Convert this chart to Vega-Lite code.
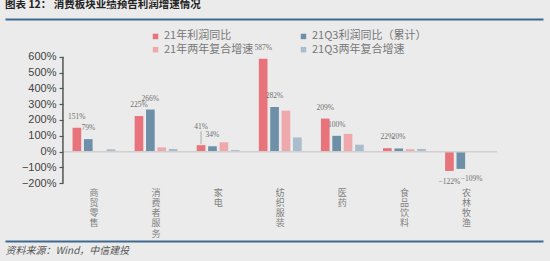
{
  "$schema": "https://vega.github.io/schema/vega-lite/v6.json",
  "width": 538,
  "height": 222.5,
  "autosize": {"type": "none"},
  "padding": {"left": 5, "top": 19, "right": 7, "bottom": 19.5},
  "background": "#EBEBEB",
  "title": {
    "text": "图表 12：    消费板块业绩预告利润增速情况",
    "anchor": "start",
    "frame": "group",
    "font": "Noto Sans CJK SC",
    "fontSize": 10.5,
    "fontWeight": "bold",
    "color": "#222222",
    "offset": 3
  },
  "config": {
    "view": {"stroke": null},
    "legend": {
      "orient": "none",
      "legendX": 145,
      "legendY": 11.7,
      "direction": "horizontal",
      "columns": 2,
      "columnPadding": 44,
      "rowPadding": 1.5,
      "symbolType": "square",
      "symbolSize": 30,
      "symbolStrokeWidth": 0,
      "labelFont": "Noto Sans CJK SC",
      "labelFontSize": 11,
      "labelColor": "#777777",
      "labelOffset": 3
    }
  },
  "data": {
    "values": [
      {"cat": "商贸零售", "series": "21年利润同比", "v": 1.51},
      {"cat": "商贸零售", "series": "21Q3利润同比（累计）", "v": 0.79},
      {"cat": "商贸零售", "series": "21Q3两年复合增速", "v": 0.15},
      {"cat": "消费者服务", "series": "21年利润同比", "v": 2.25},
      {"cat": "消费者服务", "series": "21Q3利润同比（累计）", "v": 2.66},
      {"cat": "消费者服务", "series": "21年两年复合增速", "v": 0.27},
      {"cat": "消费者服务", "series": "21Q3两年复合增速", "v": 0.17},
      {"cat": "家电", "series": "21年利润同比", "v": 0.41},
      {"cat": "家电", "series": "21Q3利润同比（累计）", "v": 0.34},
      {"cat": "家电", "series": "21年两年复合增速", "v": 0.59},
      {"cat": "家电", "series": "21Q3两年复合增速", "v": 0.1},
      {"cat": "纺织服装", "series": "21年利润同比", "v": 5.87},
      {"cat": "纺织服装", "series": "21Q3利润同比（累计）", "v": 2.82},
      {"cat": "纺织服装", "series": "21年两年复合增速", "v": 2.59},
      {"cat": "纺织服装", "series": "21Q3两年复合增速", "v": 0.9},
      {"cat": "医药", "series": "21年利润同比", "v": 2.09},
      {"cat": "医药", "series": "21Q3利润同比（累计）", "v": 1.0},
      {"cat": "医药", "series": "21年两年复合增速", "v": 1.12},
      {"cat": "医药", "series": "21Q3两年复合增速", "v": 0.44},
      {"cat": "食品饮料", "series": "21年利润同比", "v": 0.22},
      {"cat": "食品饮料", "series": "21Q3利润同比（累计）", "v": 0.2},
      {"cat": "食品饮料", "series": "21年两年复合增速", "v": 0.15},
      {"cat": "食品饮料", "series": "21Q3两年复合增速", "v": 0.17},
      {"cat": "农林牧渔", "series": "21年利润同比", "v": -1.22},
      {"cat": "农林牧渔", "series": "21Q3利润同比（累计）", "v": -1.09}
    ]
  },
  "encoding": {
    "x": {
      "field": "cat",
      "type": "nominal",
      "sort": null,
      "scale": {
        "domain": ["商贸零售", "消费者服务", "家电", "纺织服装", "医药", "食品饮料", "农林牧渔"],
        "paddingInner": 0.31,
        "paddingOuter": 0.987,
        "align": 0.551
      },
      "axis": {
        "orient": "bottom",
        "offset": -58.2,
        "title": "资料来源：Wind，中信建投",
        "titleFont": "Noto Sans CJK SC",
        "titleFontSize": 10,
        "titleFontStyle": "italic",
        "titleFontWeight": "normal",
        "titleColor": "#555555",
        "titleAnchor": "start",
        "titleAlign": "left",
        "titleBaseline": "middle",
        "titleX": 0,
        "titleY": 67.4,
        "domain": false,
        "ticks": false,
        "grid": false,
        "labelAngle": 0,
        "labelExpr": "split(datum.label, '')",
        "labelFont": "Noto Sans CJK SC",
        "labelFontSize": 9,
        "labelLineHeight": 10.2,
        "labelColor": "#808080",
        "labelBaseline": "top",
        "labelPadding": 5
      }
    },
    "y": {
      "field": "v",
      "type": "quantitative",
      "scale": {"domain": [-5.678, 8.382], "nice": false, "zero": false},
      "axis": {
        "title": null,
        "values": [-5.67, -2, -1, 0, 1, 2, 3, 4, 5, 6, 8.375],
        "format": ".0%",
        "labelExpr": "(datum.value > 7 || datum.value < -5) ? '' : datum.label",
        "labelOverlap": false,
        "offset": -58,
        "grid": true,
        "gridWidth": 2,
        "gridColor": {
          "condition": {"test": "datum.value > 7 || datum.value < -5", "value": "#3F6A8E"},
          "value": "transparent"
        },
        "domain": false,
        "tickColor": {
          "condition": {"test": "datum.value > 7 || datum.value < -5", "value": "transparent"},
          "value": "#555555"
        },
        "tickSize": 4,
        "tickWidth": 1.2,
        "labelFont": "Liberation Sans",
        "labelFontSize": 11,
        "labelColor": "#444444",
        "labelPadding": 3
      }
    },
    "xOffset": {
      "field": "series",
      "scale": {
        "domain": ["21年利润同比", "21Q3利润同比（累计）", "21年两年复合增速", "21Q3两年复合增速"],
        "paddingInner": 0.24,
        "paddingOuter": 0
      }
    }
  },
  "layer": [
    {
      "mark": {"type": "bar"},
      "encoding": {
        "color": {
          "field": "series",
          "type": "nominal",
          "title": null,
          "scale": {
            "domain": ["21年利润同比", "21Q3利润同比（累计）", "21年两年复合增速", "21Q3两年复合增速"],
            "range": ["#E8737A", "#6E8FA8", "#EFA8AC", "#AABDCC"]
          }
        }
      }
    },
    {
      "data": {"values": [{"v": 0}]},
      "mark": {"type": "rule", "color": "#D0D0D0", "strokeWidth": 1.5},
      "encoding": {
        "xOffset": null,
        "x": {"datum": "商贸零售", "bandPosition": -0.224},
        "x2": {"datum": "农林牧渔", "bandPosition": 1.209}
      }
    },
    {
      "data": {"values": [{"v": -2}]},
      "mark": {"type": "rule", "color": "#555555", "strokeWidth": 1.5},
      "encoding": {
        "xOffset": null,
        "x": {"datum": "商贸零售", "bandPosition": -0.224},
        "y2": {"datum": 6}
      }
    },
    {
      "transform": [{"filter": "datum.v >= 0 && (datum.series == '21年利润同比' || datum.series == '21Q3利润同比（累计）') && !(datum.cat == '家电' && datum.series == '21年利润同比')"}],
      "mark": {"type": "text", "font": "Liberation Serif", "fontSize": 7.5, "color": "#707070", "baseline": "alphabetic", "dy": -9},
      "encoding": {
        "text": {"field": "v", "type": "quantitative", "format": ".0%"}
      }
    },
    {
      "transform": [{"filter": "datum.cat == '家电' && datum.series == '21年利润同比'"}],
      "mark": {"type": "text", "font": "Liberation Serif", "fontSize": 7.5, "color": "#707070", "baseline": "alphabetic", "dy": -16},
      "encoding": {
        "text": {"field": "v", "type": "quantitative", "format": ".0%"}
      }
    },
    {
      "transform": [{"filter": "datum.cat == '家电' && datum.series == '21年利润同比'"}],
      "mark": {"type": "rule", "color": "#9A9A9A", "strokeWidth": 0.8, "yOffset": -1, "y2Offset": -14},
      "encoding": {
        "y2": {"field": "v"}
      }
    },
    {
      "transform": [{"filter": "datum.v < 0 && datum.series == '21年利润同比'"}],
      "mark": {"type": "text", "font": "Liberation Serif", "fontSize": 7.5, "color": "#707070", "baseline": "top", "dy": 7},
      "encoding": {
        "text": {"field": "v", "type": "quantitative", "format": ".0%"}
      }
    },
    {
      "transform": [{"filter": "datum.v < 0 && datum.series == '21Q3利润同比（累计）'"}],
      "mark": {"type": "text", "font": "Liberation Serif", "fontSize": 7.5, "color": "#707070", "baseline": "top", "align": "left", "dy": 6.5},
      "encoding": {
        "text": {"field": "v", "type": "quantitative", "format": ".0%"}
      }
    }
  ]
}
